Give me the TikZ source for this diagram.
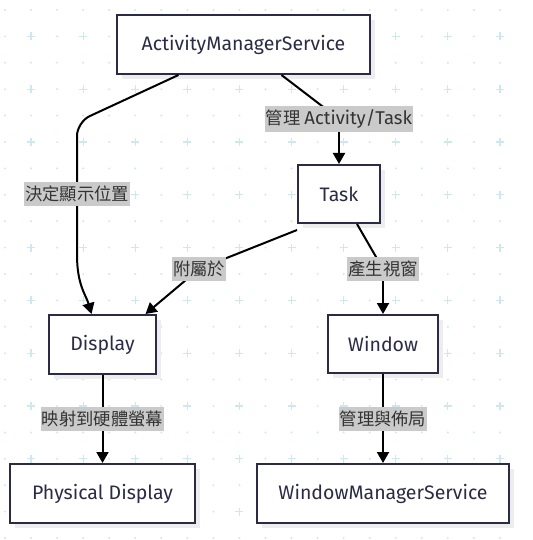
\documentclass[tikz,border=0pt]{standalone}
\usepackage{fontspec}
\setmainfont{Fira Sans}
\newfontfamily\cjkfont{Noto Sans CJK TC}
\usetikzlibrary{arrows.meta,shadows}
\definecolor{boxline}{HTML}{2B2B45}
\definecolor{boxtext}{HTML}{2B2B45}
\definecolor{lblbg}{HTML}{CACACA}
\definecolor{gridc}{HTML}{CDE9EE}
\tikzset{
  box/.style={draw=boxline, line width=2pt, fill=white, text=boxtext,
    font=\fontsize{19.5}{22}\selectfont, inner sep=0pt,
    drop shadow={shadow xshift=5pt, shadow yshift=-5pt, fill=black!7, opacity=1}},
  lbl/.style={fill=lblbg, text=black!80, font=\cjkfont\fontsize{17.3}{20}\selectfont,
    inner xsep=1pt, inner ysep=4pt},
  edge/.style={line width=2pt, draw=black, -{Triangle[length=11pt,width=12pt]}},
  plain/.style={line width=2pt, draw=black}
}
\begin{document}
\begin{tikzpicture}[x=1pt,y=-1pt]
\useasboundingbox (0,0) rectangle (532,540);
\fill[white] (0,0) rectangle (532,540);
% grid
\foreach \i in {0,...,19}{
  \foreach \j in {0,...,20}{
    \fill[gridc] ({5+26.05*\i},{10+26.4*\j}) circle (1.1pt);
  }
}
\foreach \i in {1,3,...,19}{
  \foreach \j in {1,3,...,19}{
    \draw[gridc, line width=1.2pt] ({5+26.05*\i-4},{10+26.4*\j}) -- ++(8,0)
      ({5+26.05*\i},{10+26.4*\j-4}) -- ++(0,8);
  }
}
% nodes
\node[box, minimum width=253pt, minimum height=59pt] (ams) at (243.5,44.5) {ActivityManagerService};
\node[box, minimum width=82pt, minimum height=58pt] (task) at (339,194) {Task};
\node[box, minimum width=107pt, minimum height=59pt] (disp) at (102.5,344.5) {Display};
\node[box, minimum width=110pt, minimum height=58pt] (win) at (383,344) {Window};
\node[box, minimum width=185pt, minimum height=59pt] (phys) at (102.5,493.5) {Physical Display};
\node[box, minimum width=252pt, minimum height=59pt] (wms) at (383,493.5) {WindowManagerService};
% label anchors
\coordinate (l1) at (77,194);
\coordinate (l2) at (339,119);
\coordinate (l3) at (199,269);
\coordinate (l4) at (383,269);
\coordinate (l5) at (102.5,419);
\coordinate (l6) at (383,419);
% edges
\draw[plain, rounded corners=14pt] ([xshift=-65pt]ams.south) -- (77,122) -- (l1);
\draw[edge] (l1) -- (77,255) .. controls (77,285) and (86,295) .. ([xshift=-11pt]disp.north);
\draw[plain] ([xshift=38pt]ams.south) -- (l2);
\draw[edge] (l2) -- (task.north);
\draw[plain] ([yshift=-6pt]task.south west) -- (l3);
\draw[edge] (l3) -- ([xshift=43pt]disp.north);
\draw[plain] ([xshift=18pt]task.south) -- (l4);
\draw[edge] (l4) -- (win.north);
\draw[edge] (disp.south) -- (phys.north);
\draw[edge] (win.south) -- (wms.north);
% labels
\node[lbl] (t1) at (l1) {決定顯示位置};
\node[lbl] (t2) at (l2) {管理 {\rmfamily\fontsize{18.5}{20}\selectfont Activity/Task}};
\node[lbl] (t3) at (l3) {附屬於};
\node[lbl] (t4) at (l4) {產生視窗};
\node[lbl] (t5) at (l5) {映射到硬體螢幕};
\node[lbl] (t6) at (l6) {管理與佈局};
\end{tikzpicture}
\end{document}
